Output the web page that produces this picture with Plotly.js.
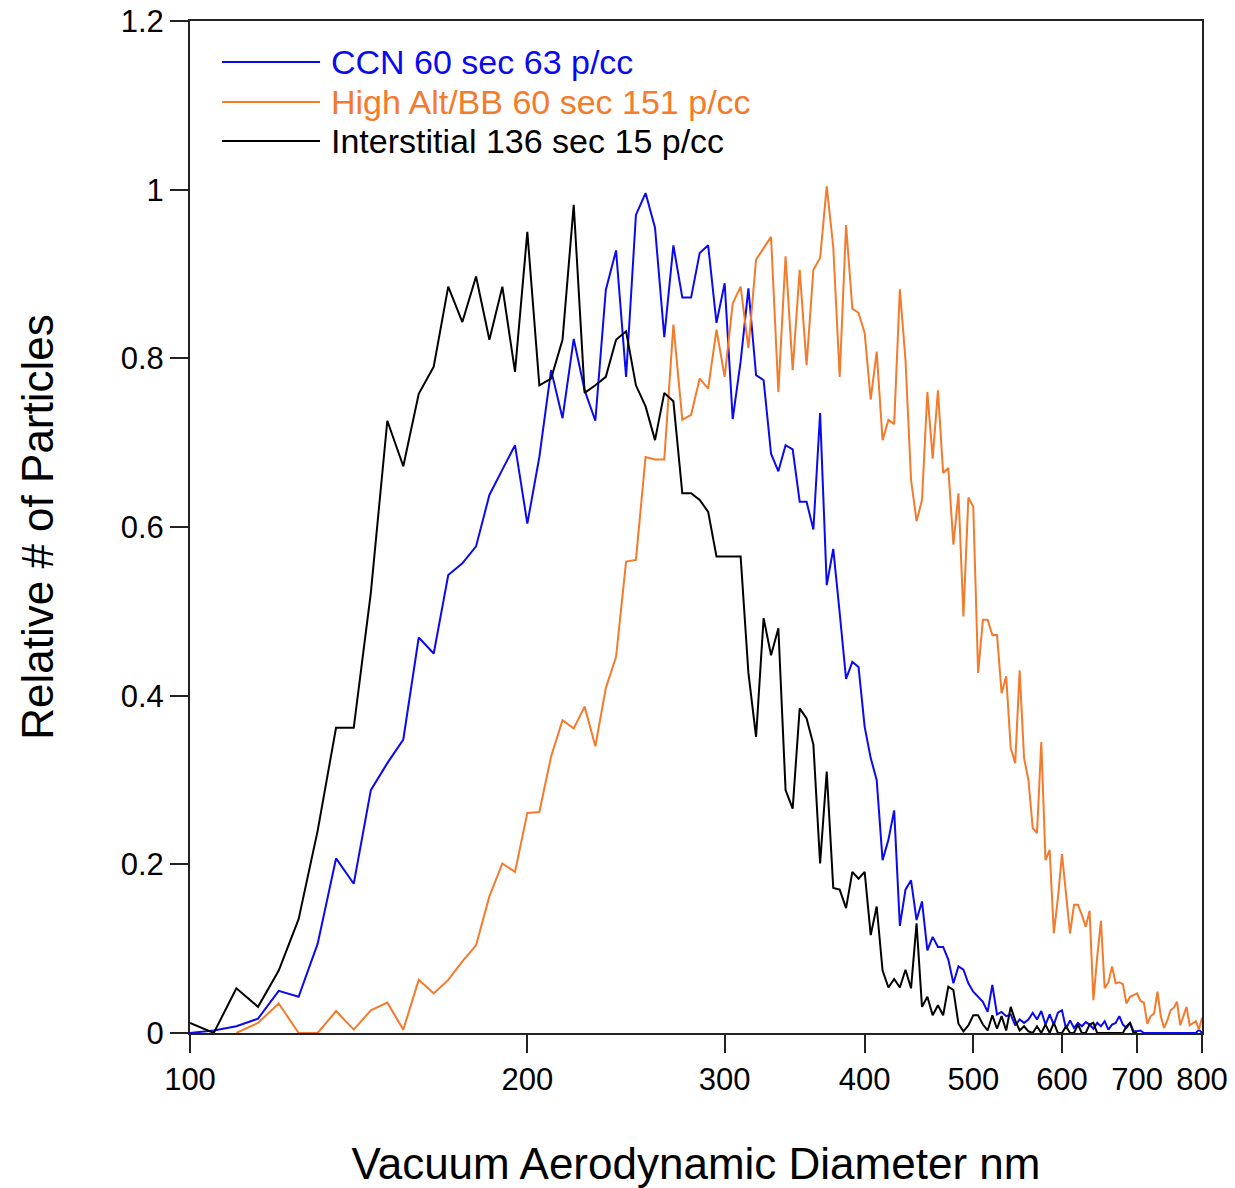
<!DOCTYPE html>
<html>
<head>
<meta charset="utf-8">
<script src="https://cdn.plot.ly/plotly-3.0.1.min.js"></script>
<style>
  html, body { margin: 0; padding: 0; background: #fff; }
  #chart { width: 1235px; height: 1188px; }
</style>
</head>
<body>
<div id="chart"></div>
<script>
// Diameter bins (nm)
const diameter = [
  100,105,110,115,120,125,130,135,140,145,
  150,155,160,165,170,175,180,185,190,195,
  200,205,210,215,220,225,230,235,240,245,
  250,255,260,265,270,275,280,285,290,295,
  300,305,310,315,320,325,330,335,340,345,
  350,355,360,365,370,375,380,385,390,395,
  400,405,410,415,420,425,430,435,440,445,
  450,455,460,465,470,475,480,485,490,495,
  500,505,510,515,520,525,530,535,540,545,
  550,555,560,565,570,575,580,585,590,595,
  600,605,610,615,620,625,630,635,640,645,
  650,655,660,665,670,675,680,685,690,695,
  700,705,710,715,720,725,730,735,740,745,
  750,755,760,765,770,775,780,785,790,795,
  800
];

// CCN 60 sec 63 p/cc
const ccn = [
  0.000,0.003,0.008,0.017,0.050,0.043,0.106,0.207,0.177,0.288,
  0.320,0.348,0.469,0.450,0.543,0.557,0.577,0.638,0.668,0.697,
  0.604,0.683,0.786,0.729,0.823,0.762,0.726,0.881,0.928,0.778,
  0.970,0.996,0.955,0.825,0.934,0.872,0.872,0.925,0.934,0.842,
  0.889,0.728,0.796,0.883,0.780,0.774,0.687,0.666,0.697,0.692,
  0.630,0.630,0.597,0.735,0.531,0.574,0.498,0.420,0.440,0.434,
  0.363,0.326,0.300,0.205,0.229,0.264,0.127,0.170,0.181,0.134,
  0.156,0.098,0.114,0.102,0.102,0.087,0.059,0.079,0.075,0.059,
  0.049,0.043,0.037,0.025,0.057,0.022,0.025,0.020,0.022,0.009,
  0.016,0.012,0.016,0.024,0.016,0.026,0.010,0.022,0.010,0.024,
  0.027,0.005,0.015,0.006,0.012,0.008,0.013,0.010,0.005,0.012,
  0.008,0.014,0.004,0.010,0.012,0.020,0.010,0.006,0.012,0.002,
  0.002,0.003,0.000,0.000,0.000,0.000,0.000,0.000,0.000,0.000,
  0.000,0.000,0.000,0.000,0.000,0.000,0.000,0.000,0.000,0.004,
  0.000
];

// High Alt/BB 60 sec 151 p/cc
const highAlt = [
  null,null,0.000,0.012,0.035,0.000,0.000,0.026,0.004,0.027,
  0.036,0.004,0.063,0.047,0.063,0.085,0.104,0.162,0.201,0.191,
  0.261,0.262,0.328,0.371,0.361,0.387,0.340,0.409,0.446,0.559,
  0.561,0.683,0.680,0.680,0.840,0.727,0.733,0.776,0.764,0.834,
  0.778,0.865,0.885,0.812,0.917,0.930,0.944,0.760,0.921,0.786,
  0.905,0.792,0.905,0.919,1.004,0.932,0.778,0.958,0.859,0.854,
  0.830,0.751,0.808,0.703,0.727,0.722,0.882,0.798,0.656,0.607,
  0.632,0.760,0.681,0.762,0.664,0.670,0.579,0.640,0.494,0.635,
  0.624,0.427,0.490,0.490,0.472,0.472,0.403,0.423,0.338,0.320,
  0.430,0.326,0.300,0.243,0.237,0.345,0.205,0.217,0.118,0.160,
  0.212,0.165,0.118,0.152,0.152,0.140,0.126,0.145,0.039,0.090,
  0.133,0.053,0.060,0.079,0.059,0.060,0.058,0.035,0.043,0.045,
  0.047,0.038,0.036,0.011,0.020,0.023,0.049,0.020,0.006,0.015,
  0.027,0.030,0.037,0.009,0.020,0.031,0.009,0.012,0.014,0.004,
  0.018
];

// Interstitial 136 sec 15 p/cc
const interstitial = [
  0.012,0.000,0.053,0.031,0.074,0.135,0.240,0.362,0.362,0.522,
  0.726,0.672,0.758,0.790,0.885,0.843,0.897,0.822,0.885,0.784,
  0.950,0.768,0.776,0.822,0.982,0.759,0.768,0.778,0.822,0.832,
  0.768,0.743,0.703,0.759,0.749,0.640,0.640,0.632,0.618,0.565,
  0.565,0.565,0.565,0.427,0.351,0.492,0.448,0.480,0.288,0.266,
  0.385,0.373,0.342,0.201,0.310,0.172,0.170,0.148,0.191,0.183,
  0.191,0.116,0.150,0.074,0.054,0.064,0.054,0.075,0.053,0.130,
  0.031,0.043,0.021,0.033,0.021,0.055,0.051,0.011,0.002,0.009,
  0.021,0.021,0.010,0.003,0.021,0.005,0.020,0.003,0.031,0.015,
  0.003,0.008,0.002,0.000,0.008,0.000,0.010,0.000,0.012,0.000,
  0.000,0.008,0.000,0.000,0.010,0.000,0.000,0.010,0.012,0.000,
  0.000,0.000,0.000,0.000,0.000,0.000,0.000,0.008,0.012,0.000,
  0.000,null,null,null,null,null,null,null,null,null,
  null,null,null,null,null,null,null,null,null,null,
  null
];

const seriesNames = [
  'CCN 60 sec 63 p/cc',
  'High Alt/BB 60 sec 151 p/cc',
  'Interstitial 136 sec 15 p/cc'
];
const seriesColors = ['#0a0af0', '#f47a2c', '#000000'];

const xTickVals = [100, 200, 300, 400, 500, 600, 700, 800];
const xTickText = ['100', '200', '300', '400', '500', '600', '700', '800'];
const yTickVals = [0, 0.2, 0.4, 0.6, 0.8, 1, 1.2];
const yTickText = ['0', '0.2', '0.4', '0.6', '0.8', '1', '1.2'];

const FONT = 'Arial, "Liberation Sans", Helvetica, sans-serif';
const ys = [ccn, highAlt, interstitial];

const traces = ys.map((y, i) => ({
  type: 'scatter',
  mode: 'lines',
  x: diameter,
  y: y,
  name: seriesNames[i],
  connectgaps: false,
  line: { color: seriesColors[i], width: 2 },
  showlegend: false
}));

// Legend drawn manually (long sample lines, coloured labels)
const legendY = [0.9595, 0.92, 0.8814];
const shapes = [];
const annotations = [];
seriesNames.forEach((n, i) => {
  shapes.push({
    type: 'line', xref: 'paper', yref: 'paper',
    x0: 0.0316, x1: 0.1285, y0: legendY[i], y1: legendY[i],
    line: { color: seriesColors[i], width: 2 }
  });
  annotations.push({
    xref: 'paper', yref: 'paper', x: 0.1373, y: legendY[i],
    xanchor: 'left', yanchor: 'middle', showarrow: false,
    text: n, font: { family: FONT, size: 34, color: seriesColors[i] }
  });
});

const layout = {
  width: 1235,
  height: 1188,
  margin: { l: 190, r: 33, t: 21, b: 155 },
  paper_bgcolor: '#ffffff',
  plot_bgcolor: '#ffffff',
  font: { family: FONT, color: '#000000' },
  showlegend: false,
  xaxis: {
    type: 'log',
    range: [Math.log10(100), Math.log10(800)],
    tickmode: 'array',
    tickvals: xTickVals,
    ticktext: xTickText,
    ticks: 'outside',
    ticklen: 18,
    tickwidth: 2,
    tickcolor: '#222222',
    showline: true,
    linecolor: '#222222',
    linewidth: 2,
    mirror: true,
    showgrid: false,
    zeroline: false,
    tickfont: { family: FONT, size: 31, color: '#000000' },
    title: { text: 'Vacuum Aerodynamic Diameter nm', font: { family: FONT, size: 44, color: '#000000' }, standoff: 59 }
  },
  yaxis: {
    range: [0, 1.2],
    tickmode: 'array',
    tickvals: yTickVals,
    ticktext: yTickText,
    ticks: 'outside',
    ticklen: 18,
    tickwidth: 2,
    tickcolor: '#222222',
    showline: true,
    linecolor: '#222222',
    linewidth: 2,
    mirror: true,
    showgrid: false,
    zeroline: false,
    tickfont: { family: FONT, size: 31, color: '#000000' },
    title: { text: 'Relative # of Particles', font: { family: FONT, size: 44, color: '#000000' }, standoff: 53 }
  },
  shapes: shapes,
  annotations: annotations
};

Plotly.newPlot('chart', traces, layout, { displayModeBar: false, staticPlot: true });
</script>
</body>
</html>
